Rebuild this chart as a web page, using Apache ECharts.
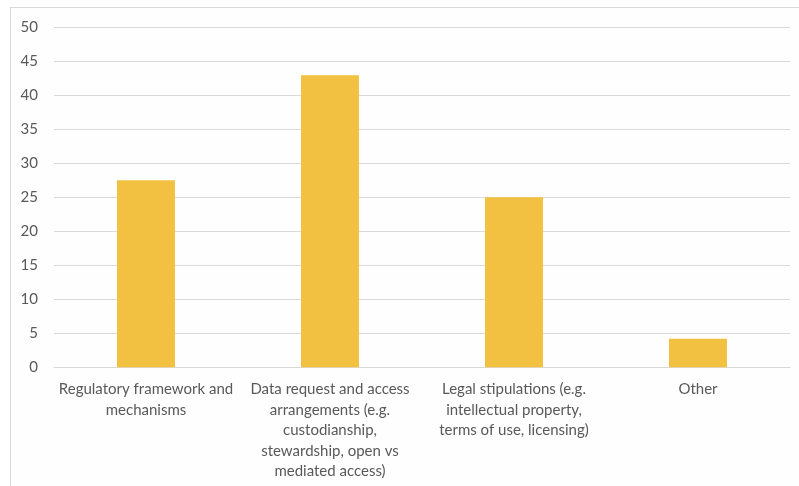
<!DOCTYPE html>
<html>
<head>
<meta charset="utf-8">
<script src="https://cdn.jsdelivr.net/npm/echarts@6/dist/echarts.min.js"></script>
<style>
  html, body { margin: 0; padding: 0; background: #ffffff; }
  #frame {
    position: absolute; left: 10px; top: 7px; width: 789px; height: 479px;
    border-top: 1px solid #d9d9d9; border-left: 1px solid #d9d9d9;
    box-sizing: border-box; background: #fefefe;
  }
  #chart { position: absolute; left: 0; top: 0; width: 799px; height: 486px; }
</style>
</head>
<body>
<div id="frame"></div>
<div id="chart"></div>
<script>
// Response categories (line breaks as they appear under the axis)
const categories = [
  'Regulatory framework and\nmechanisms',
  'Data request and access\narrangements (e.g.\ncustodianship,\nstewardship, open vs\nmediated access)',
  'Legal stipulations (e.g.\nintellectual property,\nterms of use, licensing)',
  'Other'
];
// Share of responses per category
const values = [27.5, 42.9, 25.0, 4.2];
// Value axis range
const yMin = 0;
const yMax = 50;
const yStep = 5;

const chart = echarts.init(document.getElementById('chart'), null, { renderer: 'canvas' });
chart.setOption({
  backgroundColor: 'transparent',
  animation: false,
  textStyle: { fontFamily: 'Lato, "Open Sans", sans-serif' },
  grid: { left: 54, right: 9, top: 27, bottom: 118.7, containLabel: false },
  xAxis: {
    type: 'category',
    data: categories,
    axisLine: { show: true, lineStyle: { color: '#d9d9d9', width: 1 } },
    axisTick: { show: false },
    axisLabel: {
      interval: 0,
      color: '#595959',
      fontSize: 15,
      lineHeight: 20.5,
      margin: 12,
      fontFamily: 'Lato, "Open Sans", sans-serif'
    }
  },
  yAxis: {
    type: 'value',
    min: yMin,
    max: yMax,
    interval: yStep,
    axisLine: { show: false },
    axisTick: { show: false },
    splitLine: { lineStyle: { color: '#d9d9d9', width: 1 } },
    axisLabel: {
      color: '#595959',
      fontSize: 15,
      margin: 16,
      fontFamily: 'Lato, "Open Sans", sans-serif'
    }
  },
  series: [{
    type: 'bar',
    data: values,
    barWidth: '31.5%',
    itemStyle: { color: '#F3C142' }
  }]
});
</script>
</body>
</html>
